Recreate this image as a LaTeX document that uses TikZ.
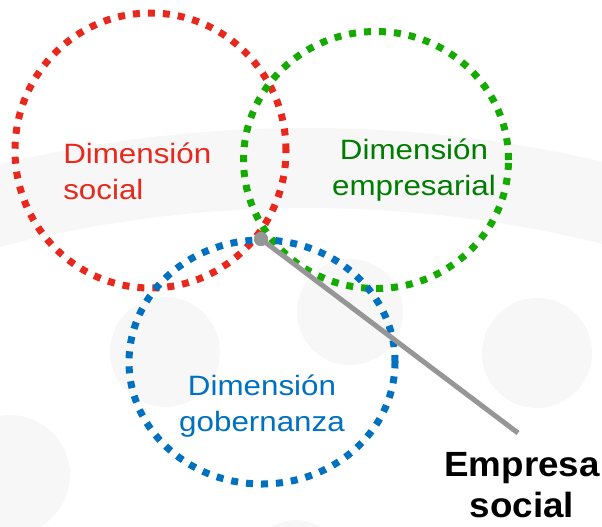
\documentclass[tikz,border=0pt]{standalone}
\usepackage{fontspec}
\setmainfont{Liberation Sans}
\newfontfamily\dimfont[FakeStretch=1.12]{Liberation Sans}
\newfontfamily\esfont[FakeStretch=1.05]{Liberation Sans}
\usetikzlibrary{shapes.geometric}
\definecolor{dimred}{HTML}{E8281C}
\definecolor{dimgreen}{HTML}{14AA00}
\definecolor{dimgreentext}{HTML}{007D00}
\definecolor{dimblue}{HTML}{0070C0}
\definecolor{linegray}{HTML}{969696}
\definecolor{bgshade}{HTML}{F7F7F7}
\begin{document}
\begin{tikzpicture}[x=0.025cm,y=-0.025cm,
    dimring/.style={ellipse,draw,line width=0.175cm,dash pattern=on 0.175cm off 0.2cm,inner sep=0pt},
    dimtext/.style={font=\dimfont\fontsize{19.9}{25.6}\selectfont,inner sep=0pt}]
        \useasboundingbox (0,0) rectangle (602,526);
        \clip (0,0) rectangle (602,526);
        % faint shapes in the background
        \fill[bgshade,even odd rule] (307,1431) circle (1303) (307,1431) circle (1223);
        \foreach \x/\y/\r in {537/353/55,350/312/53,165/352/55,10/475/60,296/565/45}
            \fill[bgshade] (\x,\y) circle (\r);
        % the three dimensions
        \node[dimring,draw=dimred,minimum width=271*0.025cm,minimum height=275*0.025cm] (social) at (150.5,150.5) {};
        \node[dimring,draw=dimgreen,minimum width=265*0.025cm,minimum height=257*0.025cm] (empresarial) at (376,160) {};
        \node[dimring,draw=dimblue,minimum width=266*0.025cm,minimum height=244*0.025cm] (gobernanza) at (262,362) {};
        % base of a two-line node is its last line
        \node[dimtext,text=dimred,align=left,anchor=base west] (tsocial) at (63,199) {Dimensión\\social};
        \node[dimtext,text=dimgreentext,align=center,anchor=base] (tempresarial) at (414,195) {Dimensión\\empresarial};
        \node[dimtext,text=dimblue,align=center,anchor=base] (tgobernanza) at (262,431) {Dimensión\\gobernanza};
        % where all three meet
        \coordinate (tip) at (518,433);
        \node[circle,fill=linegray,minimum size=0.35cm,inner sep=0pt] (es) at (261,239) {};
        \draw[linegray,line width=0.125cm] (es.center) -- (tip);
        \node[circle,fill=linegray,minimum size=0.35cm,inner sep=0pt] at (es) {};
        \node[font=\esfont\bfseries\fontsize{24.9}{28.5}\selectfont,align=center,anchor=base,inner sep=0pt] (empresa) at (522,517) {Empresa\\social};
\end{tikzpicture}
\end{document}
